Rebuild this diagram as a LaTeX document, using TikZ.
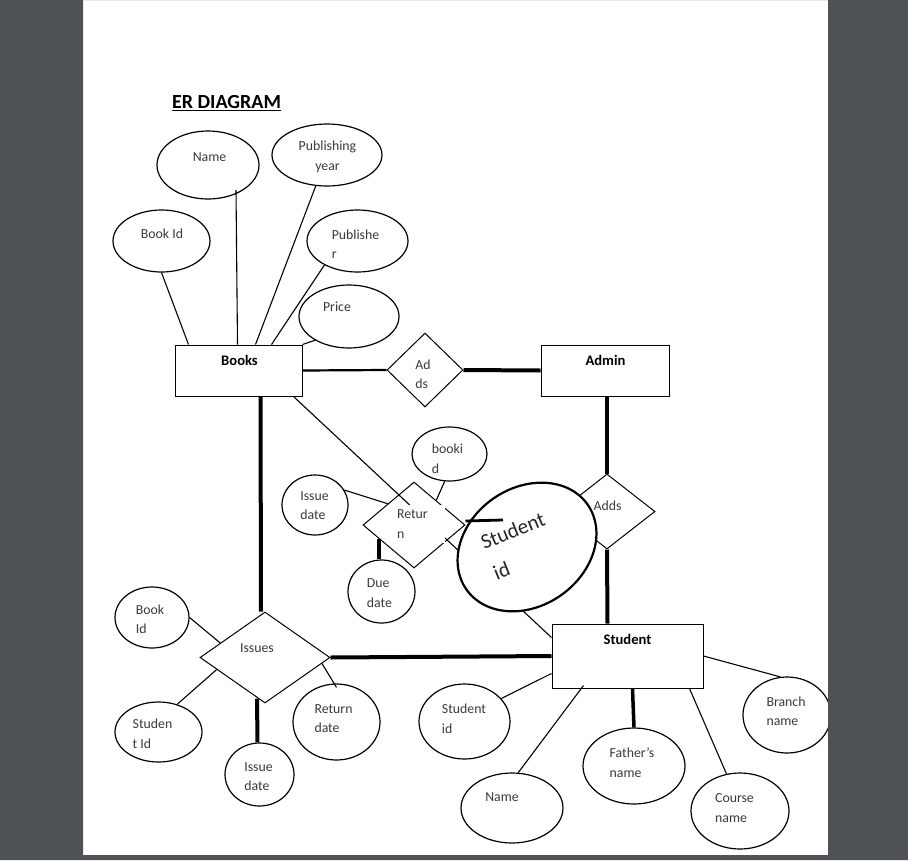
\documentclass[tikz,border=0pt]{standalone}
\usepackage{fontspec}
\setmainfont{Carlito}
\usepackage{tikz}
\usetikzlibrary{shapes.geometric}
\usetikzlibrary{calc}
\definecolor{deskgray}{HTML}{4E5256}
\definecolor{inkgray}{HTML}{3A3A3A}
\tikzset{
  attr/.style={draw, ellipse, line width=1.2pt, inner sep=0pt},
  ent/.style={draw, rectangle, line width=1pt, inner sep=0pt},
  rel/.style={draw, diamond, line width=1pt, inner sep=0pt},
  lbl/.style={font=\fontsize{13.8}{19.5}\selectfont, text=inkgray, inner sep=0pt, align=left},
  elbl/.style={font=\fontsize{14.6}{18}\selectfont\bfseries, inner sep=0pt},
  link/.style={line width=1.1pt},
  heavy/.style={line width=4pt},
}

\begin{document}
\begin{tikzpicture}[x=1pt,y=-1pt]
    \useasboundingbox (0,0) rectangle (908,860);
    \fill[white] (83,0) rectangle (828,855);
    \node[font=\fontsize{20}{24}\selectfont\bfseries, inner sep=0pt] (title) at (226.5,103) {\underline{ER DIAGRAM}};

    % books and its attributes
    \node[ent, minimum width=127, minimum height=51] (books) at (238.5,370.5) {};
    \node[elbl] (booksT) at (239.5,360) {Books};
    \node[attr, minimum width=102, minimum height=68] (bname) at (208,165) {};
    \node[lbl] (bnameT) at (209.5,157) {Name};
    \node[attr, minimum width=110, minimum height=62] (pubyear) at (327,155) {};
    \node[lbl, align=center] (pubyearT) at (327.5,157) {Publishing\\year};
    \node[attr, minimum width=97, minimum height=62] (bookid) at (161.5,241) {};
    \node[lbl] (bookidT) at (162,234) {Book Id};
    \node[attr, minimum width=101, minimum height=62] (publisher) at (357.5,241) {};
    \node[lbl] (publisherT) at (355.5,244) {Publishe\\r};
    \node[attr, minimum width=100, minimum height=63] (price) at (349,316.5) {};
    \node[lbl] (priceT) at (337,307) {Price};
    \draw[link] (bookid.south) to ([xshift=14]books.north west);
    \draw[link] ($(bname.center)+(28,25)$) to ([xshift=63]books.north west);
    \draw[link] (pubyear.-110) to ([xshift=81]books.north west);
    \draw[link] (publisher.-144) to ([xshift=97]books.north west);
    \draw[link] (price.-145) to (books.north east);

    % admin side
    \node[rel, minimum width=76, minimum height=74] (adds) at (425,370) {};
    \node[lbl] (addsT) at (423,374.5) {Ad\\ds};
    \node[ent, minimum width=128, minimum height=51] (admin) at (605,370.5) {};
    \node[elbl] (adminT) at (605.5,360) {Admin};
    \node[rel, minimum width=96, minimum height=75] (adds2) at (607,511.5) {};
    \node[lbl] (adds2T) at (607.5,506) {Adds};
    \node[ent, minimum width=151, minimum height=64] (student) at (627.5,656) {};
    \node[elbl] (studentT) at (627.5,639) {Student};
    \draw[line width=2.2pt] (books.east) to (adds.west);
    \draw[heavy] (adds.east) to (admin.west);
    \draw[heavy] ([xshift=2]admin.south) to (adds2.north);
    \draw[heavy] (adds2.south) to ([xshift=-20]student.north);

    % return
    \draw[link] ([xshift=-9]books.south east) to ([yshift=-14]student.north west);
    \node[rel, minimum width=102, minimum height=86] (ret) at (414,525) {};
    \node[lbl, fill=white, minimum width=50, minimum height=38, text width=46] (retT) at (420,524) {Retur\\n};
    \node[attr, minimum width=66, minimum height=60] (issdA) at (315,505) {};
    \node[lbl] (issdAT) at (314.5,505.5) {Issue\\date};
    \node[attr, minimum width=75, minimum height=54] (bkid) at (449.5,454) {};
    \node[lbl] (bkidT) at (447.5,458.5) {booki\\d};
    \node[attr, minimum width=67, minimum height=63] (due) at (381.5,591.5) {};
    \node[lbl] (dueT) at (379.5,593) {Due\\date};
    \draw[link] (issdA.27) to (ret.141);
    \draw[link] (bkid.-100) to (ret.48);
    \draw[heavy, line width=3.5pt] (ret.-158) to (ret.-158 |- due.north);
    \node[attr, fill=white, line width=2.2pt, minimum width=148, minimum height=118, rotate=35] (sidbig) at (527,547) {};
    \node[font=\fontsize{21}{33}\selectfont, text=black!85, align=left, rotate=22, inner sep=0pt] (sidbigT) at (519,546) {Student\\id};
    \coordinate (sidtip) at (503,520);
    \draw[line width=2.8pt] ([yshift=4]ret.east) to (sidtip);

    % issues
    \node[rel, minimum width=130, minimum height=91] (issues) at (265,657.5) {};
    \node[lbl] (issuesT) at (257,648) {Issues};
    \node[attr, minimum width=74, minimum height=61] (bookid2) at (152,617.5) {};
    \node[lbl] (bookid2T) at (150,619) {Book\\Id};
    \node[attr, minimum width=87, minimum height=60] (studid2) at (158.5,732) {};
    \node[lbl] (studid2T) at (152.5,733.5) {Studen\\t Id};
    \node[attr, minimum width=69, minimum height=63] (issdB) at (259.5,774.5) {};
    \node[lbl] (issdBT) at (258.5,776.5) {Issue\\date};
    \node[attr, minimum width=87, minimum height=76] (retdate) at (336.5,722) {};
    \node[lbl] (retdateT) at (333.5,718.5) {Return\\date};
    \draw[heavy] ([xshift=22]books.south) to ([xshift=-4]issues.north);
    \draw[heavy] (issues.east) to (student.west);
    \draw[link] (bookid2.east) to (issues.162);
    \draw[link] (studid2.56) to (issues.-166);
    \draw[heavy] ([xshift=-8,yshift=5]issues.south) to ([xshift=-2]issdB.north);
    \draw[link] (issues.-6) to ([yshift=-4]retdate.north);

    % student attributes
    \node[attr, minimum width=91, minimum height=75] (sidsmall) at (464.5,721.5) {};
    \node[lbl] (sidsmallT) at (464,718.5) {Student\\id};
    \node[attr, minimum width=102, minimum height=70] (sname) at (512,808) {};
    \node[lbl] (snameT) at (502,797) {Name};
    \node[attr, minimum width=102, minimum height=76] (fname) at (634,766) {};
    \node[lbl] (fnameT) at (632,762.5) {Father’s\\name};
    \node[attr, minimum width=98, minimum height=76] (course) at (740,811) {};
    \node[lbl] (courseT) at (734.5,808) {Course\\name};
    \node[attr, minimum width=88, minimum height=76] (branch) at (787,715) {};
    \node[lbl] (branchT) at (786,711) {Branch\\name};
    \draw[link] (sidsmall.32) to ([yshift=15]student.south west);
    \draw[link] (sname.80) to ([xshift=32,yshift=3]student.south west);
    \draw[heavy, line width=3.5pt] ([xshift=81]student.south west) to (fname.north);
    \draw[link] (course.110) to ([xshift=-14]student.south east);
    \draw[link] (branch.100) to (student.east);

    \fill[deskgray, even odd rule] (0,0) rectangle (908,860) (83,0) rectangle (828,855);
\end{tikzpicture}
\end{document}
